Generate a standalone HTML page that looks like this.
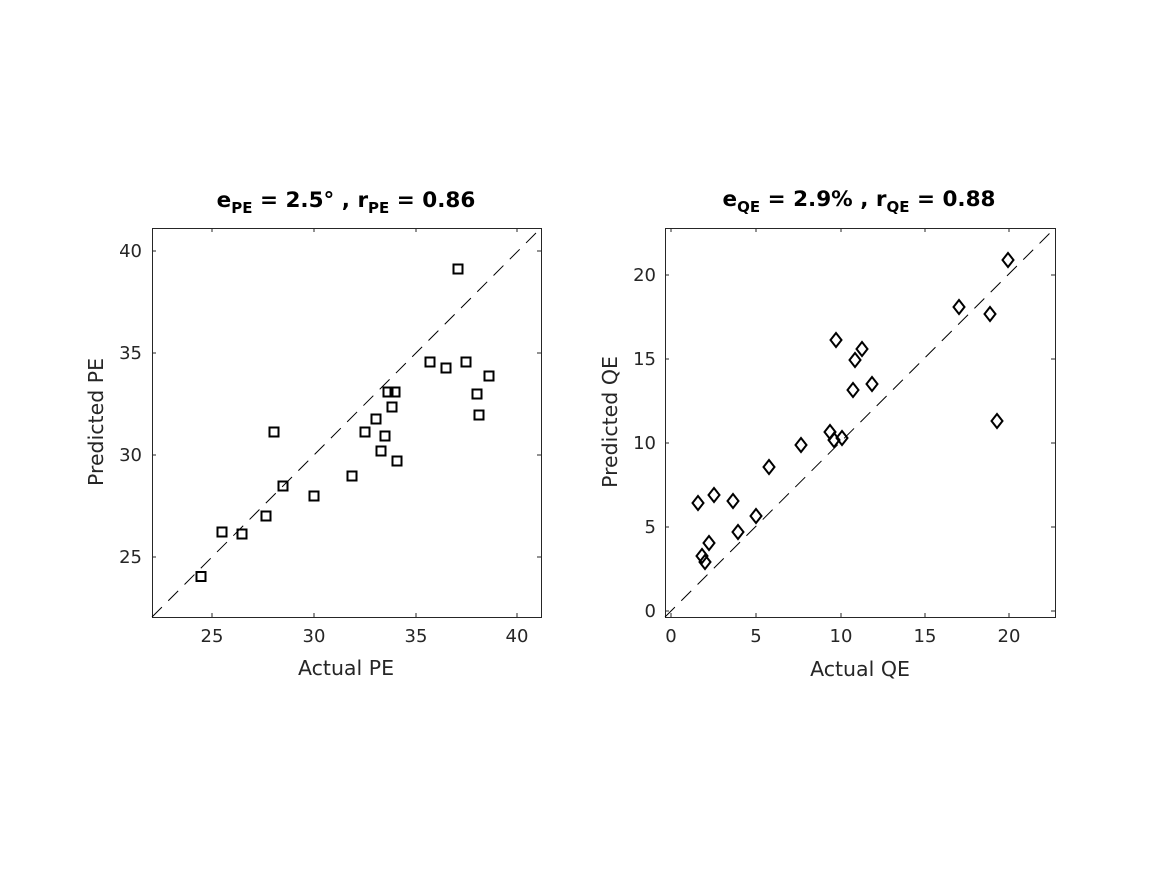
<!DOCTYPE html>
<html><head><meta charset="utf-8"><style>
html,body{margin:0;padding:0;background:#fff;}
svg{display:block;font-family:"DejaVu Sans","Liberation Sans",sans-serif;}
</style></head><body>
<svg width="1167" height="875" viewBox="0 0 1167 875" xmlns="http://www.w3.org/2000/svg">
<rect width="1167" height="875" fill="#fff"/>
<!-- Left axes -->
<g stroke="#262626" stroke-width="1" fill="none">
<rect x="152.5" y="228.5" width="389" height="389"/>
<line x1="212" y1="617" x2="212" y2="613"/><line x1="314" y1="617" x2="314" y2="613"/><line x1="416" y1="617" x2="416" y2="613"/><line x1="517" y1="617" x2="517" y2="613"/>
<line x1="212" y1="228" x2="212" y2="232"/><line x1="314" y1="228" x2="314" y2="232"/><line x1="416" y1="228" x2="416" y2="232"/><line x1="517" y1="228" x2="517" y2="232"/>
<line x1="152" y1="251" x2="156" y2="251"/><line x1="152" y1="353" x2="156" y2="353"/><line x1="152" y1="455" x2="156" y2="455"/><line x1="152" y1="557" x2="156" y2="557"/>
<line x1="541" y1="251" x2="537" y2="251"/><line x1="541" y1="353" x2="537" y2="353"/><line x1="541" y1="455" x2="537" y2="455"/><line x1="541" y1="557" x2="537" y2="557"/>
</g>
<line x1="152" y1="617" x2="541" y2="228" stroke="#000" stroke-width="1" stroke-dasharray="14,9"/>
<g fill="#262626" font-size="18" text-anchor="middle">
<text x="212" y="642">25</text><text x="314" y="642">30</text><text x="416" y="642">35</text><text x="517" y="642">40</text>
<text x="142" y="257" text-anchor="end">40</text><text x="142" y="359" text-anchor="end">35</text><text x="142" y="461" text-anchor="end">30</text><text x="142" y="563" text-anchor="end">25</text>
<text x="346" y="675" font-size="20.5">Actual PE</text>
<text transform="translate(103,422) rotate(-90)" font-size="20.5">Predicted PE</text>
</g>
<text x="346" y="207" text-anchor="middle" font-size="21.5" font-weight="bold" fill="#000">e<tspan font-size="15" dy="6">PE</tspan><tspan dy="-6"> = 2.5° , r</tspan><tspan font-size="15" dy="6">PE</tspan><tspan dy="-6"> = 0.86</tspan></text>
<g fill="none" stroke="#000" stroke-width="2">
<rect x="196.5" y="572" width="9" height="9"/><rect x="217.5" y="527.5" width="9" height="9"/><rect x="237.5" y="529.5" width="9" height="9"/>
<rect x="261.5" y="511.5" width="9" height="9"/><rect x="278.5" y="481.5" width="9" height="9"/><rect x="269.5" y="427.5" width="9" height="9"/>
<rect x="309.5" y="491.5" width="9" height="9"/><rect x="347.5" y="471.5" width="9" height="9"/><rect x="360.5" y="427.5" width="9" height="9"/>
<rect x="371.5" y="414.5" width="9" height="9"/><rect x="376.5" y="446.5" width="9" height="9"/><rect x="380.5" y="431.5" width="9" height="9"/>
<rect x="383.5" y="387.5" width="9" height="9"/><rect x="387.5" y="402.5" width="9" height="9"/><rect x="390.5" y="387.5" width="9" height="9"/>
<rect x="392.5" y="456.5" width="9" height="9"/><rect x="425.5" y="357.5" width="9" height="9"/><rect x="441.5" y="363.5" width="9" height="9"/>
<rect x="461.5" y="357.5" width="9" height="9"/><rect x="453.5" y="264.5" width="9" height="9"/><rect x="472.5" y="389.5" width="9" height="9"/>
<rect x="474.5" y="410.5" width="9" height="9"/><rect x="484.5" y="371.5" width="9" height="9"/>
</g>
<!-- Right axes -->
<g stroke="#262626" stroke-width="1" fill="none">
<rect x="665.5" y="228.5" width="390" height="389"/>
<line x1="671" y1="617" x2="671" y2="613"/><line x1="756" y1="617" x2="756" y2="613"/><line x1="841" y1="617" x2="841" y2="613"/><line x1="925" y1="617" x2="925" y2="613"/><line x1="1009" y1="617" x2="1009" y2="613"/>
<line x1="671" y1="228" x2="671" y2="232"/><line x1="756" y1="228" x2="756" y2="232"/><line x1="841" y1="228" x2="841" y2="232"/><line x1="925" y1="228" x2="925" y2="232"/><line x1="1009" y1="228" x2="1009" y2="232"/>
<line x1="665" y1="611" x2="669" y2="611"/><line x1="665" y1="527" x2="669" y2="527"/><line x1="665" y1="443" x2="669" y2="443"/><line x1="665" y1="359" x2="669" y2="359"/><line x1="665" y1="275" x2="669" y2="275"/>
<line x1="1055" y1="611" x2="1051" y2="611"/><line x1="1055" y1="527" x2="1051" y2="527"/><line x1="1055" y1="443" x2="1051" y2="443"/><line x1="1055" y1="359" x2="1051" y2="359"/><line x1="1055" y1="275" x2="1051" y2="275"/>
</g>
<line x1="665" y1="617" x2="1055" y2="228" stroke="#000" stroke-width="1" stroke-dasharray="14,9"/>
<g fill="#262626" font-size="18" text-anchor="middle">
<text x="671" y="642">0</text><text x="756" y="642">5</text><text x="841" y="642">10</text><text x="925" y="642">15</text><text x="1009" y="642">20</text>
<text x="656" y="617" text-anchor="end">0</text><text x="656" y="533" text-anchor="end">5</text><text x="656" y="449" text-anchor="end">10</text><text x="656" y="365" text-anchor="end">15</text><text x="656" y="281" text-anchor="end">20</text>
<text x="860" y="676" font-size="20.5">Actual QE</text>
<text transform="translate(617,422) rotate(-90)" font-size="20.5">Predicted QE</text>
</g>
<text x="859" y="206" text-anchor="middle" font-size="21.5" font-weight="bold" fill="#000">e<tspan font-size="15" dy="6">QE</tspan><tspan dy="-6"> = 2.9% , r</tspan><tspan font-size="15" dy="6">QE</tspan><tspan dy="-6"> = 0.88</tspan></text>
<g fill="none" stroke="#000" stroke-width="2">
<path d="M0,-7 L5.5,0 L0,7 L-5.5,0 Z" transform="translate(698,503)"/>
<path d="M0,-7 L5.5,0 L0,7 L-5.5,0 Z" transform="translate(702,556)"/>
<path d="M0,-7 L5.5,0 L0,7 L-5.5,0 Z" transform="translate(705,562)"/>
<path d="M0,-7 L5.5,0 L0,7 L-5.5,0 Z" transform="translate(709,543)"/>
<path d="M0,-7 L5.5,0 L0,7 L-5.5,0 Z" transform="translate(714,495)"/>
<path d="M0,-7 L5.5,0 L0,7 L-5.5,0 Z" transform="translate(733,501)"/>
<path d="M0,-7 L5.5,0 L0,7 L-5.5,0 Z" transform="translate(738,532)"/>
<path d="M0,-7 L5.5,0 L0,7 L-5.5,0 Z" transform="translate(756,516)"/>
<path d="M0,-7 L5.5,0 L0,7 L-5.5,0 Z" transform="translate(769,467)"/>
<path d="M0,-7 L5.5,0 L0,7 L-5.5,0 Z" transform="translate(801,445)"/>
<path d="M0,-7 L5.5,0 L0,7 L-5.5,0 Z" transform="translate(830,432)"/>
<path d="M0,-7 L5.5,0 L0,7 L-5.5,0 Z" transform="translate(834,440)"/>
<path d="M0,-7 L5.5,0 L0,7 L-5.5,0 Z" transform="translate(836,340)"/>
<path d="M0,-7 L5.5,0 L0,7 L-5.5,0 Z" transform="translate(842,438)"/>
<path d="M0,-7 L5.5,0 L0,7 L-5.5,0 Z" transform="translate(853,390)"/>
<path d="M0,-7 L5.5,0 L0,7 L-5.5,0 Z" transform="translate(855,360)"/>
<path d="M0,-7 L5.5,0 L0,7 L-5.5,0 Z" transform="translate(862,349)"/>
<path d="M0,-7 L5.5,0 L0,7 L-5.5,0 Z" transform="translate(872,384)"/>
<path d="M0,-7 L5.5,0 L0,7 L-5.5,0 Z" transform="translate(959,307)"/>
<path d="M0,-7 L5.5,0 L0,7 L-5.5,0 Z" transform="translate(990,314)"/>
<path d="M0,-7 L5.5,0 L0,7 L-5.5,0 Z" transform="translate(997,421)"/>
<path d="M0,-7 L5.5,0 L0,7 L-5.5,0 Z" transform="translate(1008,260)"/>
</g>
</svg>
</body></html>
